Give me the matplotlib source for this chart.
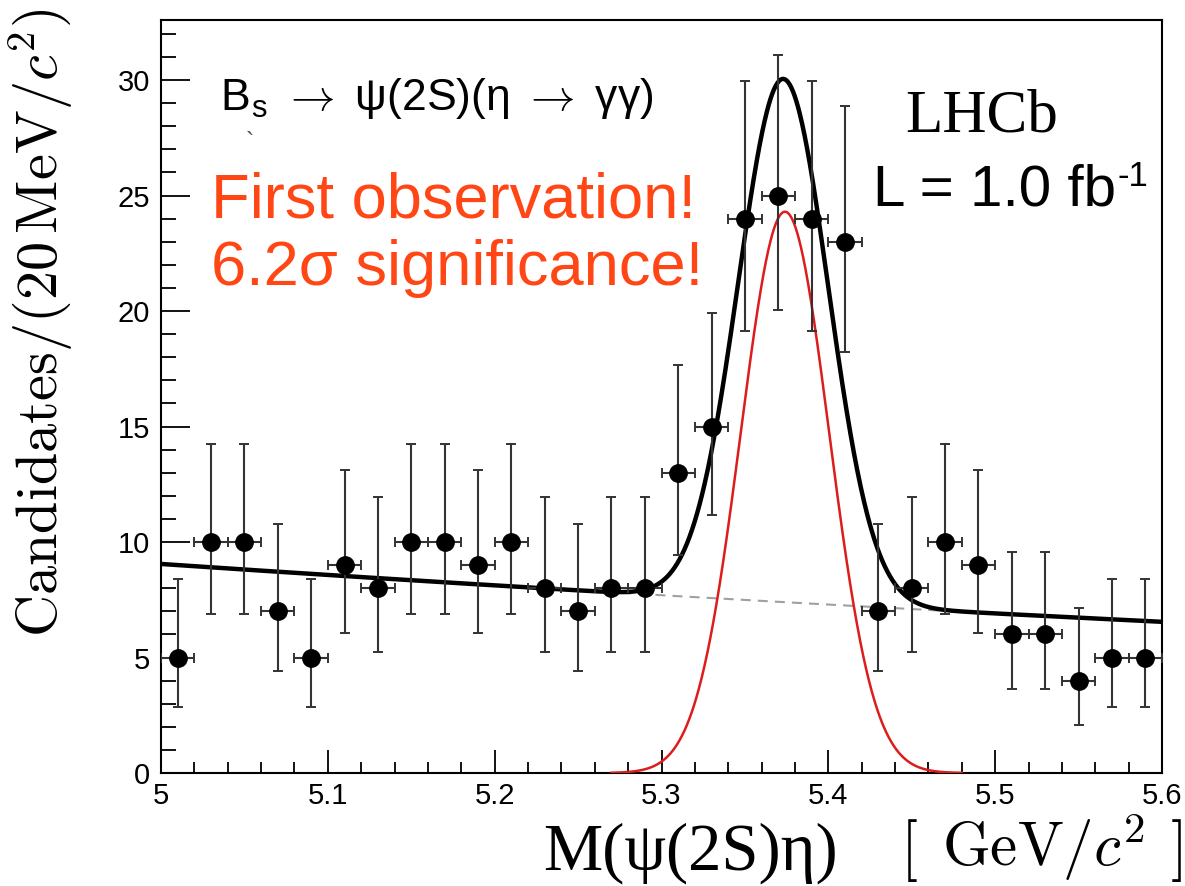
import numpy as np
import matplotlib
matplotlib.use("Agg")
import matplotlib.pyplot as plt
from matplotlib.ticker import MultipleLocator, FixedLocator

plt.rcParams["mathtext.fontset"] = "cm"
SANS = ["Liberation Sans", "DejaVu Sans"]
SERIF = ["Liberation Serif", "DejaVu Serif"]

# --- data: psi(2S) eta invariant mass, 20 MeV bins -------------------------
mass = [5.01, 5.03, 5.05, 5.07, 5.09, 5.11, 5.13, 5.15, 5.17, 5.19,
        5.21, 5.23, 5.25, 5.27, 5.29, 5.31, 5.33, 5.35, 5.37, 5.39,
        5.41, 5.43, 5.45, 5.47, 5.49, 5.51, 5.53, 5.55, 5.57, 5.59]
counts = [5, 10, 10, 7, 5, 9, 8, 10, 10, 9,
          10, 8, 7, 8, 8, 13, 15, 24, 25, 24,
          23, 7, 8, 10, 9, 6, 6, 4, 5, 5]
err_lo = [2.16, 3.11, 3.11, 2.58, 2.16, 2.94, 2.77, 3.11, 3.11, 2.94,
          3.11, 2.77, 2.58, 2.77, 2.77, 3.56, 3.83, 4.86, 4.97, 4.86,
          4.76, 2.58, 2.77, 3.11, 2.94, 2.38, 2.38, 1.91, 2.16, 2.16]
err_hi = [3.38, 4.26, 4.26, 3.77, 3.38, 4.11, 3.95, 4.26, 4.26, 4.11,
          4.26, 3.95, 3.77, 3.95, 3.95, 4.67, 4.93, 5.97, 6.07, 5.97,
          5.87, 3.77, 3.95, 4.26, 4.11, 3.58, 3.58, 3.16, 3.38, 3.38]
bin_half = 0.01

# --- fit model parameters -------------------------------------------------
bkg_norm, bkg_slope = 9.05, 0.54          # exponential background
sig_mean, sig_width, sig_peak = 5.373, 0.027, 22.65
comp_mean, comp_width, comp_peak = 5.374, 0.0265, 24.3

x_ticks = [5.0, 5.1, 5.2, 5.3, 5.4, 5.5, 5.6]
x_tick_labels = ["5", "5.1", "5.2", "5.3", "5.4", "5.5", "5.6"]
y_ticks = [0, 5, 10, 15, 20, 25, 30]

W, H = 1185, 886
fig = plt.figure(figsize=(W / 100, H / 100), dpi=100)
ax = fig.add_axes([161 / W, 1 - 773 / H, (1162 - 161) / W, (773 - 20) / H])


def bkg(m):
    return bkg_norm * np.exp(-bkg_slope * (m - 5.0))


def gauss(m, mu, s, a):
    return a * np.exp(-0.5 * ((m - mu) / s) ** 2)


m = np.linspace(5.0, 5.6, 1200)
ax.plot(m, bkg(m), color="#a0a0a0", lw=1.5, ls=(0, (4.8, 3.4)), zorder=3)
mr = np.linspace(5.27, 5.48, 600)
ax.plot(mr, gauss(mr, comp_mean, comp_width, comp_peak), color="#dd1c1c",
        lw=1.8, zorder=4)
ax.plot(m, bkg(m) + gauss(m, sig_mean, sig_width, sig_peak), color="black",
        lw=3.2, zorder=5)

ax.errorbar(mass, counts, yerr=[err_lo, err_hi], xerr=bin_half, fmt="o",
            color="black", ecolor="#333333", elinewidth=1.5, capsize=3.5,
            capthick=1.4, markersize=12.5, zorder=6)

ax.set_xlim(5.0, 5.6)
ax.set_ylim(0, 32.6)
ax.xaxis.set_major_locator(FixedLocator(x_ticks))
ax.set_xticklabels(x_tick_labels)
ax.xaxis.set_minor_locator(MultipleLocator(0.02))
ax.yaxis.set_major_locator(FixedLocator(y_ticks))
ax.yaxis.set_minor_locator(MultipleLocator(1))

for sp in ax.spines.values():
    sp.set_linewidth(1.5)
ax.tick_params(axis="both", which="both", direction="in", top=False,
               right=False, width=1.3, labelsize=21)
ax.tick_params(axis="y", which="major", length=21, pad=8)
ax.tick_params(axis="y", which="minor", length=10.5)
ax.tick_params(axis="x", which="major", length=16.5, pad=6.5)
ax.tick_params(axis="x", which="minor", length=8)
for lab in ax.get_xticklabels() + ax.get_yticklabels():
    lab.set_family(SANS)


def fx(px):
    return px / W


def fy(py):
    return 1 - py / H


# axis titles
fig.text(fx(41), fy(323), r"$\mathrm{Candidates}/(20\,\mathrm{MeV}/c^{2})$",
         rotation=90, ha="center", va="center", fontsize=42)
fig.text(fx(543), fy(870), "M(ψ(2S)η)", family=SERIF, fontsize=48,
         ha="left", va="baseline")
fig.text(fx(900), fy(866), r"$[$", fontsize=44, ha="left", va="baseline")
fig.text(fx(942), fy(866), r"$\mathrm{GeV}/c^{2}$", fontsize=44,
         ha="left", va="baseline")
fig.text(fx(1182), fy(866), r"$]$", fontsize=44, ha="right", va="baseline")

# annotations
fig.text(fx(220), fy(110),
         r"B$_\mathregular{s}$ $\rightarrow$ ψ(2S)(η $\rightarrow$ γγ)",
         family=SANS, fontsize=32, ha="left", va="baseline")
fig.text(fx(246), fy(150), "`", family=SANS, fontsize=18, color="#555555",
         ha="left", va="baseline")
fig.text(fx(211), fy(217), "First observation!", family=SANS, fontsize=45.5,
         color="#ff4614", ha="left", va="baseline")
fig.text(fx(211), fy(285), "6.2σ significance!", family=SANS, fontsize=45.5,
         color="#ff4614", ha="left", va="baseline")
fig.text(fx(905), fy(131), "LHCb", family=SERIF, fontsize=44,
         ha="left", va="baseline")
lum = fig.text(fx(873), fy(206), "L = 1.0 fb", family=SANS, fontsize=42,
               ha="left", va="baseline")
fig.canvas.draw()
bb = lum.get_window_extent()
fig.text((bb.x1 + 1) / W, fy(186), "-1", family=SANS, fontsize=25,
         ha="left", va="baseline")

fig.savefig("out.png", dpi=100)
